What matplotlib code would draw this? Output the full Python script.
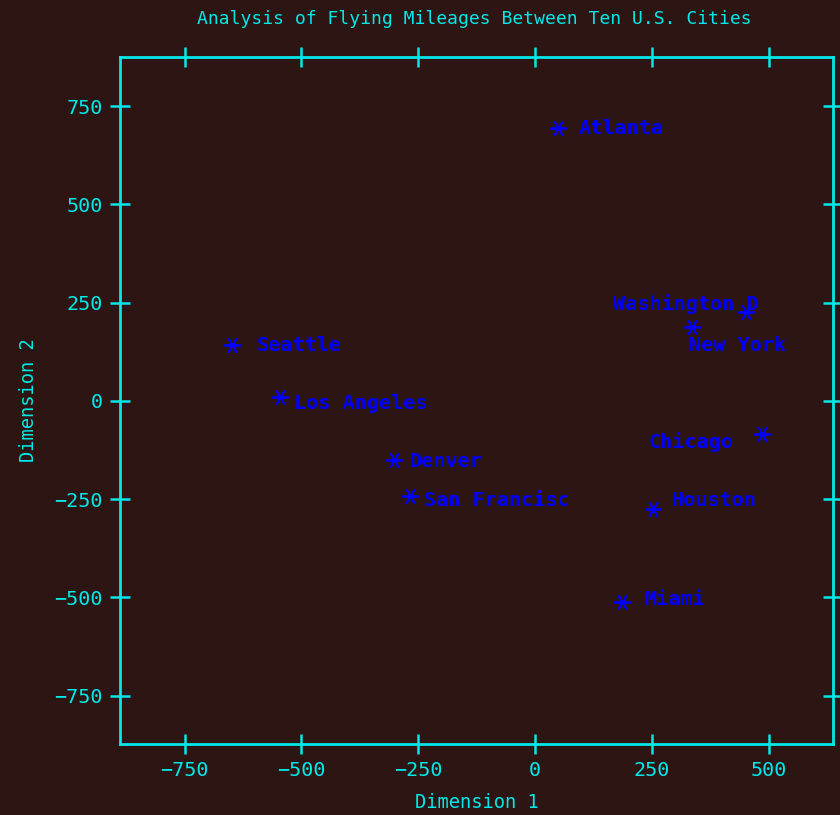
import matplotlib
matplotlib.use("Agg")
import matplotlib.pyplot as plt

# MDS coordinates of the ten cities
cities = ["Atlanta", "Washington D", "New York", "Seattle", "Los Angeles",
          "Denver", "San Francisc", "Chicago", "Houston", "Miami"]
dim1 = [49, 452, 336, -649, -546, -302, -268, 486, 253, 186]
dim2 = [695, 226, 188, 142, 10, -150, -242, -84, -275, -511]

# label placement (offset in pixels, horizontal alignment)
label_dx = [21, -133, -3, 25, 14, 16, 14, -29, 18, 22]
label_dy = [-1, 8, -18, 0, -7, -2, -4, -8, 8, 2]
label_ha = ["left", "left", "left", "left", "left", "left", "left", "right", "left", "left"]

ticks = [-750, -500, -250, 0, 250, 500, 750]

BG = "#2d1513"
CYAN = "#00e8e8"
BLUE = "#0000ff"
FONT = "DejaVu Sans Mono"

fig = plt.figure(figsize=(8.4, 8.15), dpi=100, facecolor=BG)
ax = fig.add_axes([0.1429, 0.0871, 0.8488, 0.8429], facecolor=BG)

ax.plot(dim1, dim2, linestyle="none", marker=(6, 2, 90), markersize=12,
        markeredgewidth=1.3, color=BLUE)

for name, x, y, dx, dy, ha in zip(cities, dim1, dim2, label_dx, label_dy, label_ha):
    ax.annotate(name, (x, y), xytext=(dx, dy), textcoords="offset pixels",
                ha=ha, va="center", color=BLUE, fontsize=14.5,
                fontweight="bold", family=FONT)

ax.set_xlim(-888, 638)
ax.set_ylim(-873, 875)
ax.set_xticks(ticks[:-1])
ax.set_yticks(ticks)

for s in ax.spines.values():
    s.set_color(CYAN)
    s.set_linewidth(2)

ax.tick_params(axis="both", which="both", direction="inout", length=15, width=1.8,
               color=CYAN, labelcolor=CYAN, labelsize=14.5,
               top=True, right=True, pad=5)
for lab in ax.get_xticklabels() + ax.get_yticklabels():
    lab.set_family(FONT)

ax.set_xlabel("Dimension 1", color=CYAN, fontsize=13.5, family=FONT, labelpad=9)
ax.set_ylabel("Dimension 2", color=CYAN, fontsize=13.5, family=FONT, labelpad=12)
fig.text(0.565, 0.977, "Analysis of Flying Mileages Between Ten U.S. Cities",
         ha="center", va="center", color=CYAN, fontsize=13, family=FONT)

fig.savefig("out.png", dpi=100, facecolor=BG)
